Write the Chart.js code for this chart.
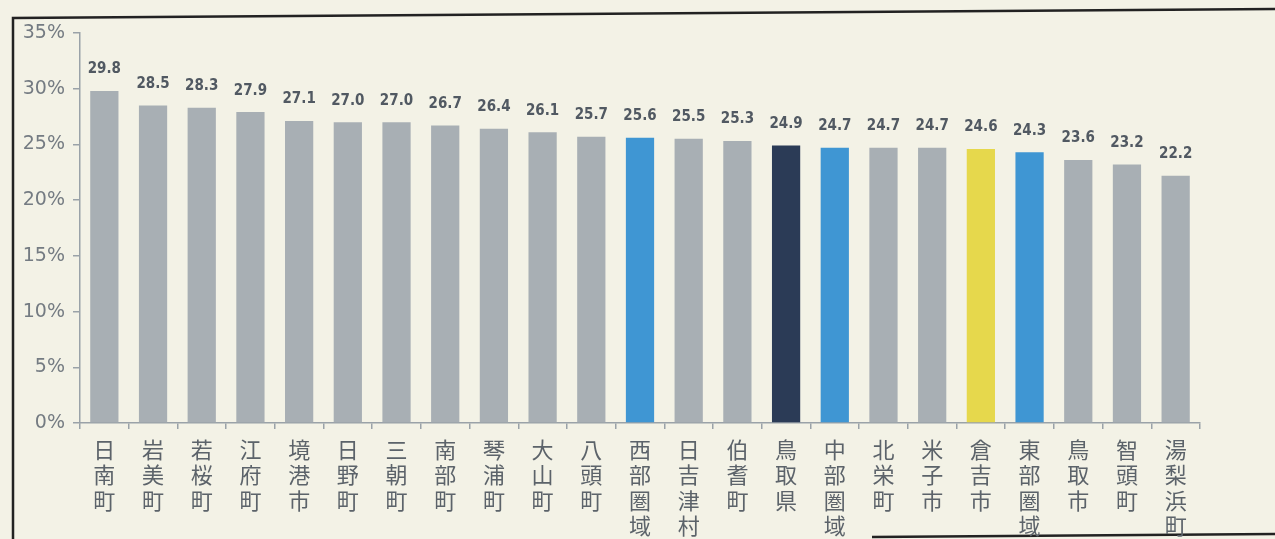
<!DOCTYPE html>
<html><head><meta charset="utf-8">
<script src="https://cdn.jsdelivr.net/npm/chart.js@4.4.0/dist/chart.umd.min.js"></script>
<style>
html,body{margin:0;padding:0;background:#f3f2e6;}
#wrap{position:relative;width:1275px;height:539px;}
</style></head>
<body><div id="wrap"><canvas id="c" width="1275" height="539"></canvas></div>
<script>
const categories = ['日南町','岩美町','若桜町','江府町','境港市','日野町','三朝町','南部町','琴浦町','大山町','八頭町','西部圏域','日吉津村','伯耆町','鳥取県','中部圏域','北栄町','米子市','倉吉市','東部圏域','鳥取市','智頭町','湯梨浜町'];
const values = [29.8,28.5,28.3,27.9,27.1,27.0,27.0,26.7,26.4,26.1,25.7,25.6,25.5,25.3,24.9,24.7,24.7,24.7,24.6,24.3,23.6,23.2,22.2];
const barColors = ['#a8afb4','#a8afb4','#a8afb4','#a8afb4','#a8afb4','#a8afb4','#a8afb4','#a8afb4','#a8afb4','#a8afb4','#a8afb4','#3f96d3','#a8afb4','#a8afb4','#2b3b56','#3f96d3','#a8afb4','#a8afb4','#e6d84c','#3f96d3','#a8afb4','#a8afb4','#a8afb4'];
const yTicks = [0,5,10,15,20,25,30,35];

const frame = {
  id:'frame',
  beforeDraw(chart){
    const ctx = chart.ctx;
    ctx.save();
    ctx.strokeStyle = '#222';
    ctx.lineWidth = 2.5;
    ctx.beginPath();
    ctx.moveTo(13,539); ctx.lineTo(13,18); ctx.lineTo(1275,9);
    ctx.stroke();
    ctx.beginPath();
    ctx.moveTo(872,537); ctx.lineTo(1275,534);
    ctx.stroke();
    ctx.restore();
  }
};
const dataLabels = {
  id:'dataLabels',
  afterDatasetsDraw(chart){
    const ctx = chart.ctx;
    const meta = chart.getDatasetMeta(0);
    ctx.save();
    ctx.font = 'bold 15px "DejaVu Sans Condensed", "DejaVu Sans", sans-serif';
    ctx.fillStyle = '#515962';
    ctx.textAlign = 'center';
    ctx.textBaseline = 'bottom';
    meta.data.forEach((el,i)=>{
      ctx.fillText(values[i].toFixed(1), el.x, el.y - 14);
    });
    ctx.restore();
  }
};

new Chart(document.getElementById('c'), {
  type:'bar',
  data:{
    labels: categories.map(s => Array.from(s)),
    datasets:[{data: values, backgroundColor: barColors, borderWidth:0, barPercentage:0.58, categoryPercentage:1.0}]
  },
  options:{
    responsive:false,
    animation:false,
    layout:{padding:{left:0,top:33,right:75,bottom:0}},
    plugins:{legend:{display:false}, tooltip:{enabled:false}},
    scales:{
      x:{
        grid:{offset:true, drawOnChartArea:false, tickLength:6, color:'#9aa2a8', lineWidth:1.5},
        border:{color:'#9aa2a8', width:1.5},
        ticks:{maxRotation:0, minRotation:0, autoSkip:false, padding:8, color:'#5c636a',
          font:{family:'"Noto Sans CJK JP", sans-serif', size:22, lineHeight:1.15}},
        afterFit(s){ s.height = 116; }
      },
      y:{
        min:0, max:35,
        afterBuildTicks(s){ s.ticks = yTicks.map(v=>({value:v})); },
        grid:{drawOnChartArea:false, tickLength:7, color:'#9aa2a8', lineWidth:1.5},
        border:{color:'#9aa2a8', width:1.5},
        ticks:{padding:8, color:'#747b82', callback:v=>v+'%',
          font:{family:'"DejaVu Sans", sans-serif', size:19}},
        afterFit(s){ s.width = 80; }
      }
    }
  },
  plugins:[frame, dataLabels]
});
</script></body></html>
